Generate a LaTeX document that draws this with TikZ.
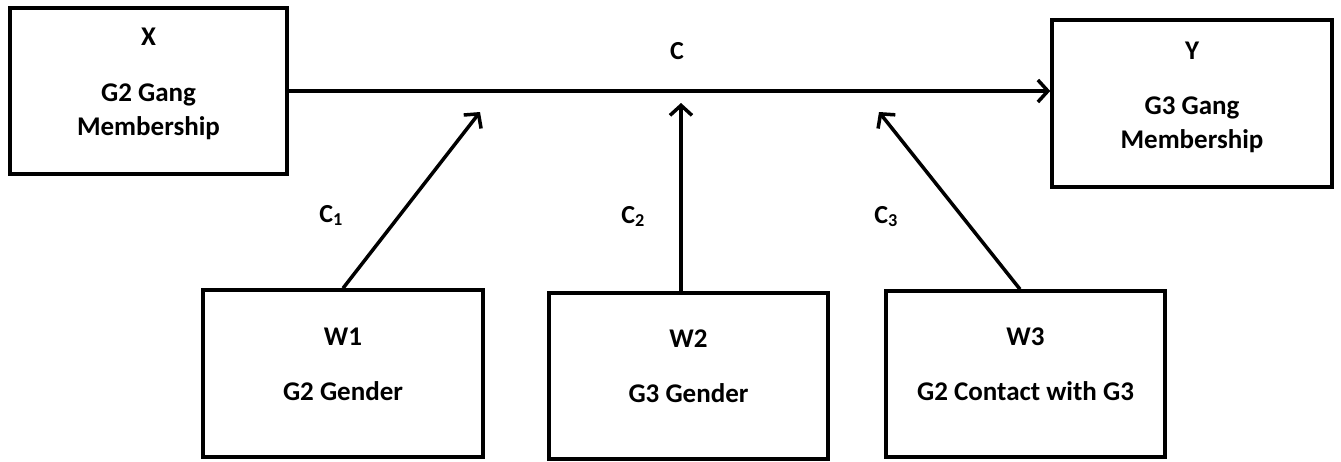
\documentclass[tikz,border=0pt]{standalone}
\usepackage{fontspec}
\setmainfont{Carlito}
\usetikzlibrary{arrows.meta}
\begin{document}
\begin{tikzpicture}[x=1pt,y=-1pt,
  box/.style={draw,line width=3.5pt,minimum width=#1,inner sep=0pt,minimum height=166pt},
  box/.default=279pt,
  lbl/.style={font=\fontsize{27}{32}\selectfont\bfseries,anchor=base,inner sep=0pt},
  clbl/.style={font=\fontsize{26}{30}\selectfont\bfseries,anchor=base,inner sep=0pt},
  conn/.style={line width=3.5pt,-{Straight Barb[length=10pt,width=22pt,line width=3.5pt]}}]
\useasboundingbox (0,0) rectangle (1341,461);
% boxes
\node[box=277pt] (X) at (148.5,91) {};
\node[box=280pt,minimum height=167pt] (Y) at (1192,103.5) {};
\node[box=280pt,minimum height=167pt] (W1) at (343,373.5) {};
\node[box=279pt] (W2) at (688.5,376) {};
\node[box=279pt] (W3) at (1025.5,374) {};
% texts
\node[lbl] (xa) at (148.5,45) {X};
\node[lbl] (xb) at (148.5,101) {G2 Gang};
\node[lbl] (xc) at (148.5,135) {Membership};
\node[lbl] (ya) at (1192,59) {Y};
\node[lbl] (yb) at (1192,114) {G3 Gang};
\node[lbl] (yc) at (1192,148) {Membership};
\node[lbl] (w1a) at (343,345) {W1};
\node[lbl] (w1b) at (343,400) {G2 Gender};
\node[lbl] (w2a) at (688.5,347) {W2};
\node[lbl] (w2b) at (688.5,402) {G3 Gender};
\node[lbl] (w3a) at (1025.5,345) {W3};
\node[lbl] (w3b) at (1025.5,400) {G2 Contact with G3};
\node[clbl] (c) at (677,59) {C};
\node[clbl] (c1) at (331,222) {C\textsubscript{1}};
\node[clbl] (c2) at (633,223) {C\textsubscript{2}};
\node[clbl] (c3) at (886,223) {C\textsubscript{3}};
% connectors
\coordinate (t1) at (480,112);
\coordinate (t2) at (681,103);
\coordinate (t3) at (879,112);
\draw[conn] (X.east) -- (X.east -| Y.west);
\draw[conn] (W1.north) -- (t1);
\draw[conn] (t2 |- W2.north) -- (t2);
\draw[conn] ([xshift=-5.5pt]W3.north) -- (t3);
\end{tikzpicture}
\end{document}
